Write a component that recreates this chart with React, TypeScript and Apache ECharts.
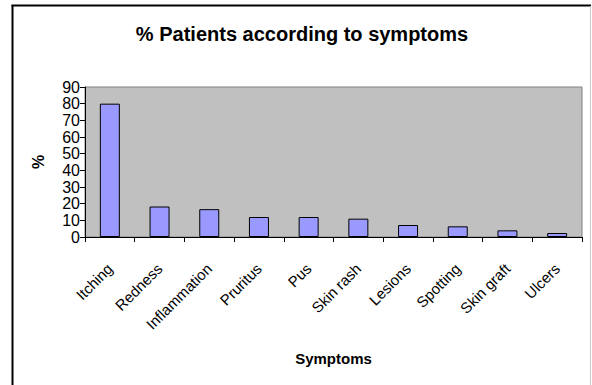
import React, { useEffect, useRef } from "react";
import * as echarts from "echarts";

const symptoms = [
  "Itching",
  "Redness",
  "Inflammation",
  "Pruritus",
  "Pus",
  "Skin rash",
  "Lesions",
  "Spotting",
  "Skin graft",
  "Ulcers",
];
const patientPercent = [80, 18.3, 16.7, 12, 12, 11, 7.2, 6.4, 4, 2.4];
const yTicks = { min: 0, max: 90, interval: 10 };

const FONT = "'Liberation Sans', Arial, sans-serif";

export default function App() {
  const ref = useRef<HTMLDivElement>(null);

  useEffect(() => {
    if (!ref.current) return;
    const chart = echarts.init(ref.current, null, { renderer: "svg" });
    chart.setOption({
      animation: false,
      backgroundColor: "#ffffff",
      title: {
        text: "% Patients according to symptoms",
        left: 297,
        textAlign: "center",
        top: 19,
        textStyle: { fontFamily: FONT, fontSize: 20, fontWeight: "bold", color: "#000" },
      },
      grid: {
        left: 85,
        top: 87,
        right: 10,
        bottom: 148,
        show: true,
        backgroundColor: "#c0c0c0",
        borderColor: "#808080",
        borderWidth: 1,
      },
      xAxis: {
        type: "category",
        data: symptoms,
        name: "Symptoms",
        nameLocation: "middle",
        nameGap: 114,
        nameTextStyle: { fontFamily: FONT, fontSize: 15, fontWeight: "bold", color: "#000" },
        axisLine: { lineStyle: { color: "#000", width: 1 } },
        axisTick: { show: true, alignWithLabel: false, length: 5, lineStyle: { color: "#000" } },
        axisLabel: {
          rotate: 45,
          margin: 29,
          interval: 0,
          fontFamily: FONT,
          fontSize: 15,
          color: "#000",
        },
      },
      yAxis: {
        type: "value",
        min: yTicks.min,
        max: yTicks.max,
        interval: yTicks.interval,
        name: "%",
        nameLocation: "middle",
        nameGap: 39,
        nameRotate: 90,
        nameTextStyle: { fontFamily: FONT, fontSize: 16, fontWeight: "bold", color: "#000" },
        axisLine: { show: true, lineStyle: { color: "#000", width: 1 } },
        axisTick: { show: true, length: 5, lineStyle: { color: "#000" } },
        axisLabel: { margin: 5, fontFamily: FONT, fontSize: 16, color: "#000" },
        splitLine: { show: false },
      },
      series: [
        {
          type: "bar",
          data: patientPercent,
          barWidth: 20,
          itemStyle: { color: "#9999ff", borderColor: "#000", borderWidth: 1 },
        },
      ],
      graphic: [
        {
          type: "line",
          shape: { x1: 12.5, y1: 5, x2: 12.5, y2: 385 },
          style: { stroke: "#000", lineWidth: 2 },
          silent: true,
        },
        {
          type: "line",
          shape: { x1: 11.5, y1: 5.5, x2: 591, y2: 5.5 },
          style: { stroke: "#000", lineWidth: 2 },
          silent: true,
        },
        {
          type: "line",
          shape: { x1: 590.5, y1: 6, x2: 590.5, y2: 385 },
          style: { stroke: "#c8c8c8", lineWidth: 1 },
          silent: true,
        },
      ],
    });
    return () => chart.dispose();
  }, []);

  return (
    <div
      ref={ref}
      style={{ position: "fixed", left: 0, top: 0, width: 592, height: 385 }}
    />
  );
}
